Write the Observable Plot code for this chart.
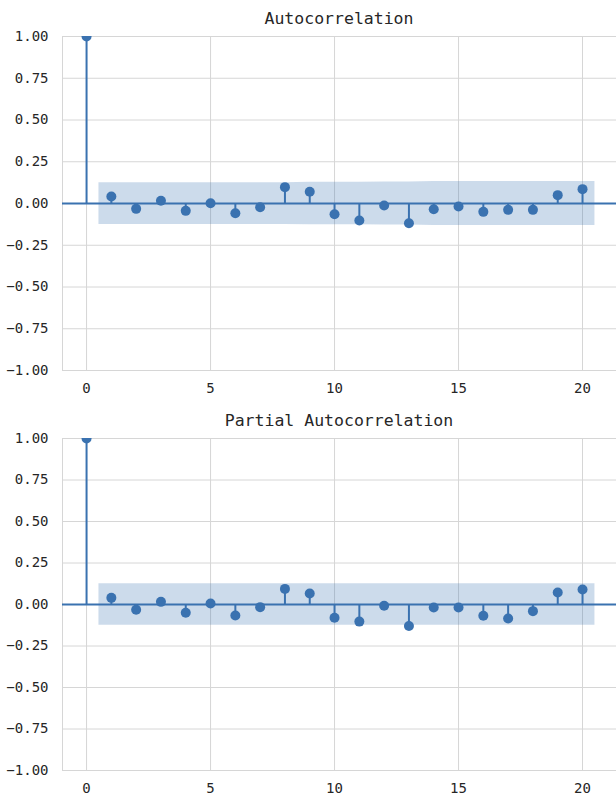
<!DOCTYPE html>
<html>
<head>
<meta charset="utf-8">
<script src="https://cdn.jsdelivr.net/npm/d3@7"></script>
<script src="https://cdn.jsdelivr.net/npm/@observablehq/plot@0.6"></script>
<style>
  body { margin: 0; background: #fff; }
  #root { position: relative; width: 616px; }
  .ttl { position: absolute; left: 62px; width: 554px; text-align: center; height: 28px; line-height: 28px;
         font-family: "DejaVu Sans Mono", monospace; font-size: 16.5px; color: #262626; z-index: 2; }
  svg { display: block; }
</style>
</head>
<body>
<div id="root"></div>
<script>
// ---- data ----
const lags = [0,1,2,3,4,5,6,7,8,9,10,11,12,13,14,15,16,17,18,19,20];
const acfValues = [1.0, 0.042, -0.032, 0.016, -0.044, 0.002, -0.058, -0.022, 0.098, 0.070, -0.064,
                   -0.102, -0.012, -0.118, -0.034, -0.018, -0.050, -0.038, -0.038, 0.050, 0.086];
const pacfValues = [1.0, 0.040, -0.032, 0.016, -0.050, 0.006, -0.066, -0.016, 0.094, 0.066, -0.080,
                    -0.103, -0.008, -0.129, -0.018, -0.018, -0.068, -0.084, -0.040, 0.072, 0.090];
// confidence band half-widths for lags 1..20
const acfBand = [0.125, 0.125, 0.125, 0.125, 0.125, 0.125, 0.125, 0.125, 0.127, 0.127,
                 0.127, 0.128, 0.128, 0.131, 0.131, 0.131, 0.131, 0.131, 0.131, 0.131];
const pacfBand = [0.125, 0.125, 0.125, 0.125, 0.125, 0.125, 0.125, 0.125, 0.125, 0.125,
                  0.125, 0.125, 0.125, 0.125, 0.125, 0.125, 0.125, 0.125, 0.125, 0.125];
const xTicks = [0, 5, 10, 15, 20];
const yTicks = [-1, -0.75, -0.5, -0.25, 0, 0.25, 0.5, 0.75, 1];
const titles = ["Autocorrelation", "Partial Autocorrelation"];

const blue = "#3a72b0";
const gridColor = "#d6d6d6";
const fmt = d3.format(".2f");

function panel(values, band, height, mTop, mBottom, xPad) {
  const pts = lags.map((l, i) => ({lag: l, v: values[i]}));
  const bandPts = band.map((w, i) => ({x: lags[i + 1], w}));
  const bandData = [{x: 0.5, w: band[0]}, ...bandPts, {x: 20.5, w: band[band.length - 1]}];
  return Plot.plot({
    width: 616,
    height,
    marginLeft: 62,
    marginRight: 0,
    marginTop: mTop,
    marginBottom: mBottom,
    style: {fontFamily: "DejaVu Sans Mono, monospace", fontSize: "14px", color: "#262626", background: "#fff"},
    x: {domain: [-0.97, 21.37]},
    y: {domain: [-1, 1]},
    marks: [
      Plot.gridX(xTicks, {stroke: gridColor, strokeOpacity: 1, strokeWidth: 1}),
      Plot.gridY(yTicks, {stroke: gridColor, strokeOpacity: 1, strokeWidth: 1}),
      Plot.frame({stroke: gridColor, strokeWidth: 1}),
      Plot.axisY(yTicks, {tickSize: 0, tickPadding: 14, tickFormat: fmt, label: null, fill: "#262626"}),
      Plot.axisX(xTicks, {tickSize: 0, tickPadding: xPad, label: null, fill: "#262626"}),
      Plot.areaY(bandData, {x: "x", y1: d => -d.w, y2: d => d.w, fill: blue, fillOpacity: 0.26}),
      Plot.ruleY([0], {stroke: blue, strokeWidth: 2}),
      Plot.ruleX(pts, {x: "lag", y1: 0, y2: "v", stroke: blue, strokeWidth: 2}),
      Plot.dot(pts, {x: "lag", y: "v", r: 5, fill: blue, stroke: "none", clip: true})
    ]
  });
}

const root = document.getElementById("root");
root.appendChild(panel(acfValues, acfBand, 400, 36, 30, 13));
root.appendChild(panel(pacfValues, pacfBand, 398, 38, 28, 13));
const t1 = document.createElement("div");
t1.className = "ttl"; t1.style.top = "5px";
t1.textContent = titles[0];
root.appendChild(t1);
const t2 = document.createElement("div");
t2.className = "ttl"; t2.style.top = "407px";
t2.textContent = titles[1];
root.appendChild(t2);
</script>
</body>
</html>
